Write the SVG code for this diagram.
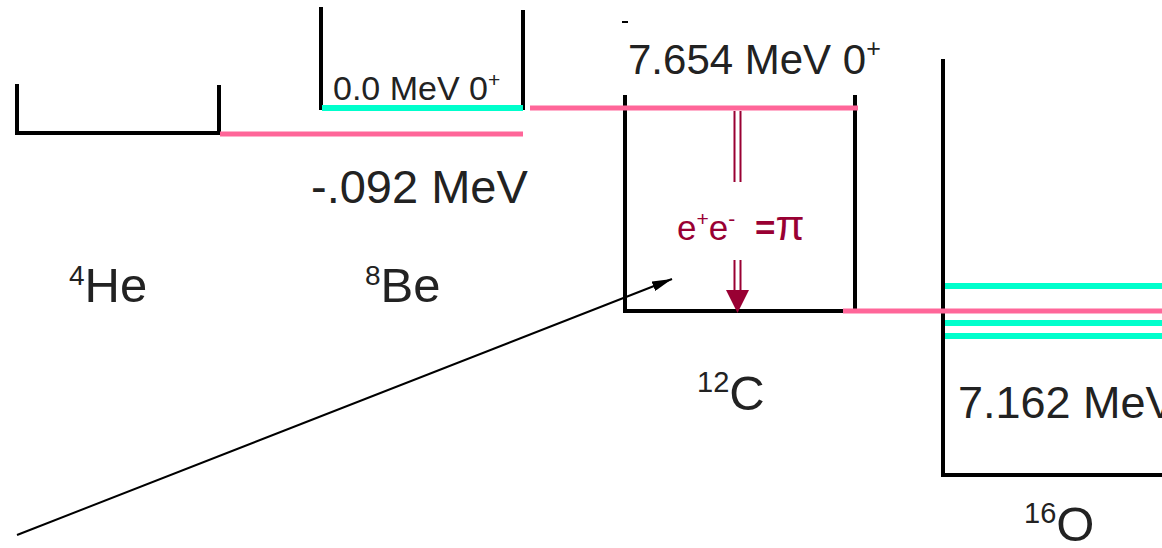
<svg xmlns="http://www.w3.org/2000/svg" width="1162" height="548" viewBox="0 0 1162 548">
<defs>
<style>
.well{fill:none;stroke:#000;stroke-width:4;stroke-linecap:square;stroke-linejoin:miter}
.pink{stroke:#FF6699;stroke-width:5;fill:none}
.cyan{stroke:#00FFCC;stroke-width:6;fill:none}
.t{font-family:"Liberation Sans",Arial,sans-serif;fill:#222}
.red{stroke:#990033;stroke-width:2;fill:none}
</style>
<marker id="ah2" viewBox="0 0 20 10" refX="20" refY="5" markerWidth="20" markerHeight="10" markerUnits="userSpaceOnUse" orient="auto"><path d="M0,0 L20,5 L0,10 z" fill="#000"/></marker>
</defs>
<g id="he4">
<path class="well" d="M17,86 V133 H219 V87"/>
<text class="t" x="69" y="302" font-size="49"><tspan font-size="28" dy="-17">4</tspan><tspan dy="17">He</tspan></text>
</g>
<g id="be8">
<path class="well" d="M321,9 V108"/>
<path class="well" d="M523,12 V108"/>
<line class="cyan" x1="322" y1="108" x2="523" y2="108"/>
<text class="t" x="333" y="100" font-size="34">0.0 MeV 0<tspan font-size="21" dy="-13">+</tspan></text>
<text class="t" x="311" y="203" font-size="47">-.092 MeV</text>
<text class="t" x="365" y="302" font-size="49"><tspan font-size="28" dy="-17">8</tspan><tspan dy="17">Be</tspan></text>
</g>
<g id="c12">
<path class="well" d="M625,97 V311 H855 V97"/>
<line x1="622" y1="22" x2="628" y2="22" stroke="#000" stroke-width="2"/>
<text class="t" x="628" y="74" font-size="42">7.654 MeV 0<tspan font-size="25" dy="-17">+</tspan></text>
<line class="red" x1="734.5" y1="111" x2="734.5" y2="182"/>
<line class="red" x1="740.5" y1="111" x2="740.5" y2="182"/>
<text x="677" y="240" font-family="'Liberation Sans',Arial,sans-serif" font-size="35" fill="#990033">e<tspan font-size="21" dy="-14">+</tspan><tspan dy="14">e</tspan><tspan font-size="21" dy="-14">-</tspan><tspan dy="14" dx="10"> </tspan><tspan font-weight="bold">=</tspan><tspan font-size="42">π</tspan></text>
<line class="red" x1="734.5" y1="260" x2="734.5" y2="291"/>
<line class="red" x1="740.5" y1="260" x2="740.5" y2="291"/>
<path d="M726,290 L749,290 L737.5,313 z" fill="#990033"/>
<text class="t" x="697" y="410" font-size="49"><tspan font-size="29" dy="-18">12</tspan><tspan dy="18">C</tspan></text>
</g>
<g id="o16">
<path class="well" d="M943,61 V475 H1162"/>
<line class="cyan" x1="945" y1="286" x2="1162" y2="286"/>
<line class="cyan" x1="945" y1="323" x2="1162" y2="323"/>
<line class="cyan" x1="945" y1="336" x2="1162" y2="336"/>
<text class="t" x="958" y="418" font-size="45">7.162 MeV</text>
<text class="t" x="1024" y="541" font-size="49"><tspan font-size="29" dy="-18">16</tspan><tspan dy="18">O</tspan></text>
</g>
<g id="connectors">
<line class="pink" x1="220" y1="134" x2="523" y2="134"/>
<line class="pink" x1="530" y1="108" x2="858" y2="108"/>
<line class="pink" x1="843" y1="311" x2="1162" y2="311"/>
<line x1="17" y1="535" x2="672" y2="279" stroke="#000" stroke-width="2" marker-end="url(#ah2)"/>
</g>
</svg>
